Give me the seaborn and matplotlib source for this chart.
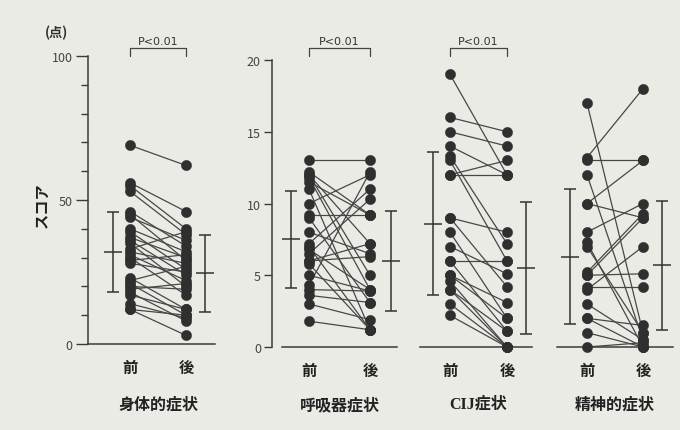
import pandas as pd
import seaborn as sns
import matplotlib.pyplot as plt
from matplotlib.transforms import blended_transform_factory

titles = ["身体的症状", "呼吸器症状", "CIJ症状", "精神的症状"]
times = ["前", "後"]

body_pre = [69, 56, 55, 53, 46, 45, 44, 40, 39, 37, 36, 35, 33, 32, 31, 30, 29, 28,
            23, 22, 21, 20, 19, 18, 17, 14, 12, 12]
body_post = [62, 46, 40, 38, 34, 29, 36, 32, 26, 30, 24, 20, 39, 28, 22, 17, 31, 25,
             12, 27, 10, 19, 21, 8, 12, 9, 3, 10]

resp_pre = [13, 12.2, 12, 12, 11.8, 11.5, 11, 10, 9.2, 9, 8, 7.2, 7, 6.8, 6.5, 6, 6,
            5.8, 5, 4.3, 4, 3.6, 3, 1.8]
resp_post = [13, 9.2, 7.2, 5, 4, 9.2, 1.2, 12, 9.2, 3.1, 6.5, 11, 1.2, 4, 10.3, 7.2,
             6.3, 1.2, 3.9, 12.2, 3.9, 3.1, 1.9, 1.2]

cij_pre = [19, 16, 15, 14, 13.3, 13, 12, 12, 9, 9, 8, 7, 6, 6, 5, 5, 4.6, 4, 4, 3, 2.2]
cij_post = [12, 15, 14, 12, 7.2, 6, 12, 13, 8, 4.2, 2, 5.1, 6, 1.1, 2, 3.1, 0, 1.1, 0, 0, 0]

mental_pre = [17, 13.2, 13, 12, 10, 10, 8, 7.3, 7, 5.2, 5, 5, 4.2, 4, 3, 2, 2, 1, 0]
mental_post = [1, 18, 13, 0.5, 13, 9, 10, 0, 1, 9.3, 5.1, 9, 4.2, 7, 0.5, 1.5, 0, 0, 0.3]

mean_pre = [32, 7.5, 8.6, 6.3]
sd_pre = [14, 3.4, 5.0, 4.7]
mean_post = [24.5, 6.0, 5.5, 5.7]
sd_post = [13.3, 3.5, 4.6, 4.5]
p_labels = ["P<0.01", "P<0.01", "P<0.01", None]

pre_sets = [body_pre, resp_pre, cij_pre, mental_pre]
post_sets = [body_post, resp_post, cij_post, mental_post]

sns.set_style("white")
plt.rcParams["font.family"] = ["Noto Sans CJK JP", "DejaVu Sans"]

W, H = 680, 431
paper = "#ebebe6"
ink = "#2f2f2f"
fig = plt.figure(figsize=(6.8, 4.31), dpi=100, facecolor=paper)

# pixel layout: x-axis line left/right, before/after x, y of 0, y of top value
layout = [
    dict(left=88, right=215, pre=130, post=186, y0=345, ytop=57, ymax=100),
    dict(left=282, right=397, pre=309, post=370, y0=348, ytop=61, ymax=20),
    dict(left=420, right=532, pre=450, post=507, y0=348, ytop=61, ymax=20),
    dict(left=557, right=673, pre=587, post=643, y0=348, ytop=61, ymax=20),
]

for i, lay in enumerate(layout):
    ax = fig.add_axes([lay["left"] / W, (H - lay["y0"]) / H,
                       (lay["right"] - lay["left"]) / W, (lay["y0"] - lay["ytop"]) / H])
    ax.set_facecolor("none")
    unit = lay["post"] - lay["pre"]
    ax.set_xlim((lay["left"] - lay["pre"]) / unit, (lay["right"] - lay["pre"]) / unit)
    ax.set_ylim(0, lay["ymax"])

    n = len(pre_sets[i])
    df = pd.DataFrame({
        "subject": list(range(n)) * 2,
        "time": [0] * n + [1] * n,
        "score": pre_sets[i] + post_sets[i],
    })
    sns.lineplot(data=df, x="time", y="score", units="subject", estimator=None,
                 color="#474747", lw=0.9, ax=ax, clip_on=False)
    sns.scatterplot(data=df, x="time", y="score", color=ink, s=55, edgecolor=ink,
                    linewidth=0.3, ax=ax, clip_on=False, zorder=3)

    # mean ± SD
    for x, m, s in [(-0.3, mean_pre[i], sd_pre[i]), (1.34, mean_post[i], sd_post[i])]:
        ax.errorbar([x], [m], yerr=[s], fmt="none", ecolor="#333333", elinewidth=1.1,
                    capsize=4, capthick=1.1, clip_on=False)
        ax.plot([x], [m], marker="_", ms=13, mew=1.1, color="#333333", clip_on=False)

    ax.set_xticks([0, 1])
    ax.set_xticklabels(times, fontsize=11, fontweight="bold", color="#222222")
    ax.tick_params(axis="x", length=0, pad=11)
    ax.set_xlabel("")
    ax.set_ylabel("")
    for side in ["top", "right"]:
        ax.spines[side].set_visible(False)
    ax.spines["bottom"].set_color("#3a3a3a")
    ax.spines["bottom"].set_linewidth(1.1)

    if i == 0:
        ax.set_yticks([0, 50, 100])
        ax.set_yticks(range(0, 101, 10), minor=True)
        ax.tick_params(axis="y", which="major", length=9, width=1.0, color="#3a3a3a",
                       labelsize=9, labelcolor="#444444", pad=2, left=True)
        ax.tick_params(axis="y", which="minor", length=5, width=1.0, color="#3a3a3a", left=True)
        ax.spines["left"].set_color("#3a3a3a")
        ax.spines["left"].set_linewidth(1.1)
    elif i == 1:
        ax.set_yticks([0, 5, 10, 15, 20])
        ax.tick_params(axis="y", length=6, width=1.0, color="#3a3a3a",
                       labelsize=9, labelcolor="#444444", pad=2, left=True)
        ax.spines["left"].set_position(("outward", 7.2))
        ax.spines["left"].set_color("#3a3a3a")
        ax.spines["left"].set_linewidth(1.1)
    else:
        ax.set_yticks([])
        ax.spines["left"].set_visible(False)

    # significance bracket
    if p_labels[i]:
        tr = blended_transform_factory(ax.transData, fig.transFigure)
        ax.plot([0, 0, 1, 1], [1 - 57 / H, 1 - 49 / H, 1 - 49 / H, 1 - 57 / H],
                color="#444444", lw=0.9, transform=tr, clip_on=False)
        ax.text(0.5, 1 - 42 / H, p_labels[i], transform=tr, ha="center", va="center",
                fontsize=8, color="#333333", family=["DejaVu Sans"])

    fam = ["Liberation Serif", "Noto Sans CJK JP"] if titles[i].startswith("CIJ") else None
    fig.text((lay["pre"] + lay["post"]) / 2 / W, 1 - 405 / H, titles[i], ha="center",
             va="center", fontsize=11.5, fontweight="bold", color="#222222", family=fam)

fig.text(42 / W, 1 - 205 / H, "スコア", rotation=90, ha="center", va="center",
         fontsize=11, fontweight="bold", color="#222222")
fig.text(57 / W, 1 - 33 / H, "(点)", ha="center", va="center", fontsize=9.5,
         fontweight="bold", color="#333333")

fig.savefig("out.png", dpi=100, facecolor=paper)
